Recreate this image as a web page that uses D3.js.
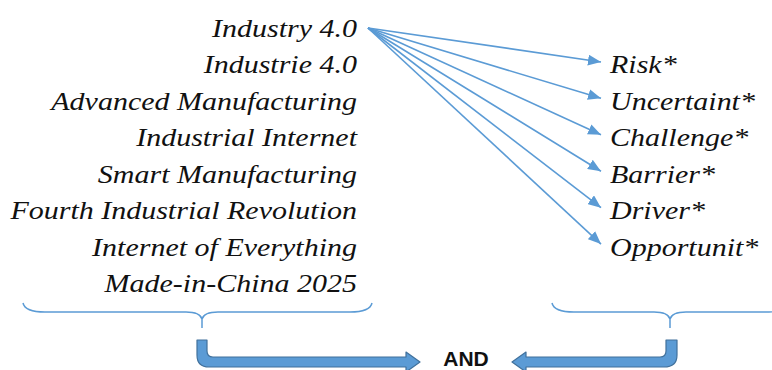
<!DOCTYPE html>
<html><head><meta charset="utf-8"><script src="https://cdn.jsdelivr.net/npm/d3@7"></script></head>
<body style="margin:0">
<svg id="c" width="772" height="370"></svg>
<script>
// ---- data ----
const searchTerms = [
  "Industry 4.0",
  "Industrie 4.0",
  "Advanced Manufacturing",
  "Industrial Internet",
  "Smart Manufacturing",
  "Fourth Industrial Revolution",
  "Internet of Everything",
  "Made-in-China 2025"
];
const qualifierTerms = [
  "Risk*",
  "Uncertaint*",
  "Challenge*",
  "Barrier*",
  "Driver*",
  "Opportunit*"
];
// row index (on the shared row grid) of each qualifier term
const qualifierRows = [1, 2, 3, 4, 5, 6];
const joinLabel = "AND";

// ---- layout ----
const svg = d3.select("#c");
const blue = "#5B9BD5", blueDark = "#41719C";
const baseSize = 22, sy = 25 / 22, sx = sy * 1.2;

const rowY = d3.scaleLinear().domain([0, searchTerms.length - 1]).range([37, 292]);
const leftX = 357, rightX = 610;

// left terms
searchTerms.forEach((t, i) => {
  svg.append("text")
    .attr("transform", `translate(${leftX},${rowY(i)}) scale(${sx},${sy})`)
    .attr("text-anchor", "end")
    .style("font-family", `"Liberation Serif"`)
    .style("font-style", "italic")
    .style("font-size", baseSize + "px")
    .style("fill", "#111")
    .text(t);
});

// right terms
qualifierTerms.forEach((t, i) => {
  svg.append("text")
    .attr("transform", `translate(${rightX},${rowY(qualifierRows[i])}) scale(${sx},${sy})`)
    .style("font-family", `"Liberation Serif"`)
    .style("font-style", "italic")
    .style("font-size", baseSize + "px")
    .style("fill", "#111")
    .text(t);
});

// arrow marker
svg.append("defs").append("marker")
  .attr("id", "tri")
  .attr("viewBox", "0 0 12 10")
  .attr("refX", 12).attr("refY", 5)
  .attr("markerUnits", "userSpaceOnUse")
  .attr("markerWidth", 13).attr("markerHeight", 11)
  .attr("orient", "auto")
  .append("path").attr("d", "M0,0 L12,5 L0,10 Z").attr("fill", blue);

// fan of arrows from first term
const origin = [368, 28];
svg.append("g").selectAll("line").data(qualifierTerms).join("line")
  .attr("x1", origin[0]).attr("y1", origin[1])
  .attr("x2", rightX - 9)
  .attr("y2", (d, i) => rowY(qualifierRows[i]) - 11.5)
  .attr("stroke", blue)
  .attr("stroke-width", 1.6)
  .attr("marker-end", "url(#tri)");

// braces
function bracePath(x0, x1, xm, yLine, yEnd, yTip) {
  return `M${x0},${yEnd} Q${x0 + 2},${yLine} ${x0 + 22},${yLine} L${xm - 16},${yLine} ` +
         `Q${xm - 2},${yLine} ${xm},${yLine + 7} L${xm},${yTip} ` +
         `M${xm},${yLine + 7} Q${xm + 2},${yLine} ${xm + 16},${yLine} L${x1 - 22},${yLine} ` +
         `Q${x1 - 2},${yLine} ${x1},${yEnd}`;
}
const braces = [
  { x0: 23, x1: 372, xm: 202 },
  { x0: 552, x1: 788, xm: 670 }
];
svg.append("g").selectAll("path").data(braces).join("path")
  .attr("d", b => bracePath(b.x0, b.x1, b.xm, 312, 303, 328))
  .attr("fill", "none")
  .attr("stroke", blue)
  .attr("stroke-width", 1.5);

// thick bent arrows
const yTop = 340, yBar0 = 357, yBar1 = 367, yMid = 362;
const leftArrow = `M197,${yTop} L207,${yTop} L207,${yBar0 - 6} Q207,${yBar0} 213,${yBar0} ` +
  `L406,${yBar0} L406,${yBar0 - 5} L420,${yMid} L406,${yBar1 + 5} L406,${yBar1} ` +
  `L209,${yBar1} Q197,${yBar1} 197,${yBar1 - 12} Z`;
const rightArrow = `M677,${yTop} L666,${yTop} L666,${yBar0 - 6} Q666,${yBar0} 660,${yBar0} ` +
  `L526,${yBar0} L526,${yBar0 - 5} L512,${yMid} L526,${yBar1 + 5} L526,${yBar1} ` +
  `L664,${yBar1} Q677,${yBar1} 677,${yBar1 - 12} Z`;
svg.append("g").selectAll("path").data([leftArrow, rightArrow]).join("path")
  .attr("d", d => d)
  .attr("fill", blue)
  .attr("stroke", blueDark)
  .attr("stroke-width", 1.2)
  .attr("stroke-linejoin", "round");

svg.append("text")
  .attr("x", 466).attr("y", 366)
  .attr("text-anchor", "middle")
  .style("font-family", `"Liberation Sans"`)
  .style("font-weight", "bold")
  .style("font-size", "21px")
  .style("fill", "#111")
  .text(joinLabel);
</script>
</body></html>
